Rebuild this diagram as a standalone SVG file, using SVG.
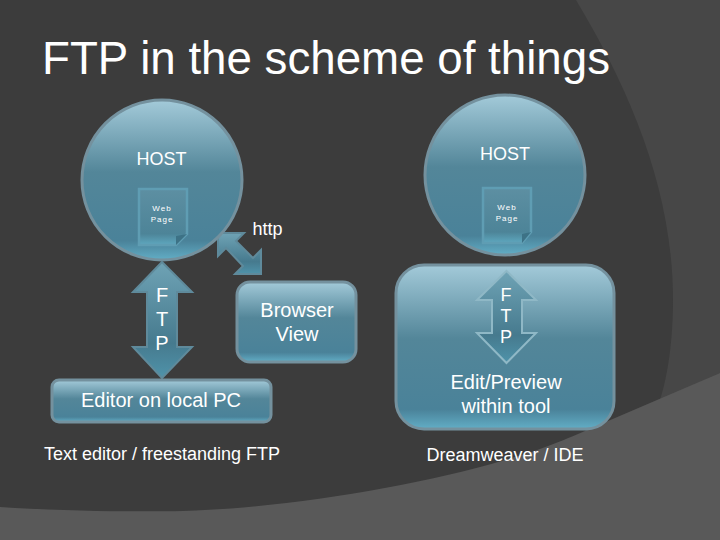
<svg xmlns="http://www.w3.org/2000/svg" width="720" height="540" viewBox="0 0 720 540">
<style>
text{font-family:"Liberation Sans",Arial,sans-serif;fill:#fff;text-anchor:middle}
.s{stroke:#74919e;stroke-width:3;fill:url(#g)}
.p{stroke:#5f9db3;stroke-width:2.5;fill:url(#g2)}
.a{stroke:#5f8a9b;stroke-width:2;fill:url(#g3)}
.h{font-size:18px}.w{font-size:8px;letter-spacing:1px}.b{font-size:20px}.c{font-size:18px}
</style>
<defs>
<linearGradient id="g" x1="0" y1="0" x2="0" y2="1">
<stop offset="0" stop-color="#a3cad9"/><stop offset=".45" stop-color="#538699"/><stop offset=".88" stop-color="#4a8299"/><stop offset="1" stop-color="#62aec6"/>
</linearGradient>
<linearGradient id="g2" x1="0" y1="0" x2="0" y2="1">
<stop offset="0" stop-color="#5d8fa2"/><stop offset=".8" stop-color="#4d8498"/><stop offset="1" stop-color="#5ea8bf"/>
</linearGradient>
<linearGradient id="g3" x1="0" y1="0" x2="0" y2="1">
<stop offset="0" stop-color="#6fa3b5"/><stop offset=".7" stop-color="#467a8e"/><stop offset="1" stop-color="#4f93aa"/>
</linearGradient>
</defs>
<rect width="720" height="540" fill="#3c3c3c"/>
<path d="M576 0C630 90 673 190 673 300C673 340 668 375 660 400L720 373V0Z" fill="#474747"/>
<path d="M0 507C60 511 130 512 183 511C284 508 413 487 505 460C540 450 560 442 587 430L720 373V540H0Z" fill="#595959"/>
<text x="326" y="74" style="font-size:45.700px">FTP in the scheme of things</text>
<g id="connectors">
<path id="c-http" class="a" d="M218 233H244L236 241L253 258L261 250V274H235L243 266L226 248L218 256Z"/>
</g>
<text class="h" x="267.500" y="235">http</text>
<g id="host-left">
<circle class="s" cx="162" cy="180" r="80"/>
<text class="h" x="161.500" y="165">HOST</text>
</g>
<g id="page-left">
<path class="p" d="M139 189H187V234L176 245H139Z"/>
<path d="M176 245V236L187 234Z" fill="#3d7286"/>
<text class="w" x="162" y="211">Web</text>
<text class="w" x="162" y="222">Page</text>
</g>
<g id="ftp-left">
<path class="a" d="M162 262L192 292H177V347H192L162 378L133 347H147V292H133Z"/>
<text class="b" x="162" y="302">F</text>
<text class="b" x="162" y="326">T</text>
<text class="b" x="162" y="350">P</text>
</g>
<g id="browser">
<rect class="s" x="237" y="282" width="119" height="80" rx="13"/>
<text class="b" x="297" y="317">Browser</text>
<text class="b" x="297" y="341">View</text>
</g>
<g id="editor">
<rect class="s" x="52" y="380" width="219" height="42" rx="7"/>
<text class="b" x="161" y="407">Editor on local PC</text>
</g>
<text class="c" x="162" y="460">Text editor / freestanding FTP</text>
<g id="host-right">
<circle class="s" cx="505" cy="175" r="80"/>
<text class="h" x="505" y="160">HOST</text>
</g>
<g id="page-right">
<path class="p" d="M483 188H531V232L522 243H483Z"/>
<path d="M522 243V234L531 232Z" fill="#3d7286"/>
<text class="w" x="507" y="210">Web</text>
<text class="w" x="507" y="221">Page</text>
</g>
<g id="tool">
<rect class="s" x="396" y="265" width="218" height="164" rx="28"/>
<text class="b" x="506" y="389">Edit/Preview</text>
<text class="b" x="506" y="413">within tool</text>
</g>
<g id="ftp-right">
<path d="M506.500 271L536 300H522V333H536L506.500 363L477 333H492V300H477Z" fill="url(#g3)" stroke="#8fb8c6" stroke-width="2"/>
<text class="h" x="506" y="301">F</text>
<text class="h" x="506" y="322">T</text>
<text class="h" x="506" y="343">P</text>
</g>
<text class="c" x="505" y="461">Dreamweaver / IDE</text>
</svg>
